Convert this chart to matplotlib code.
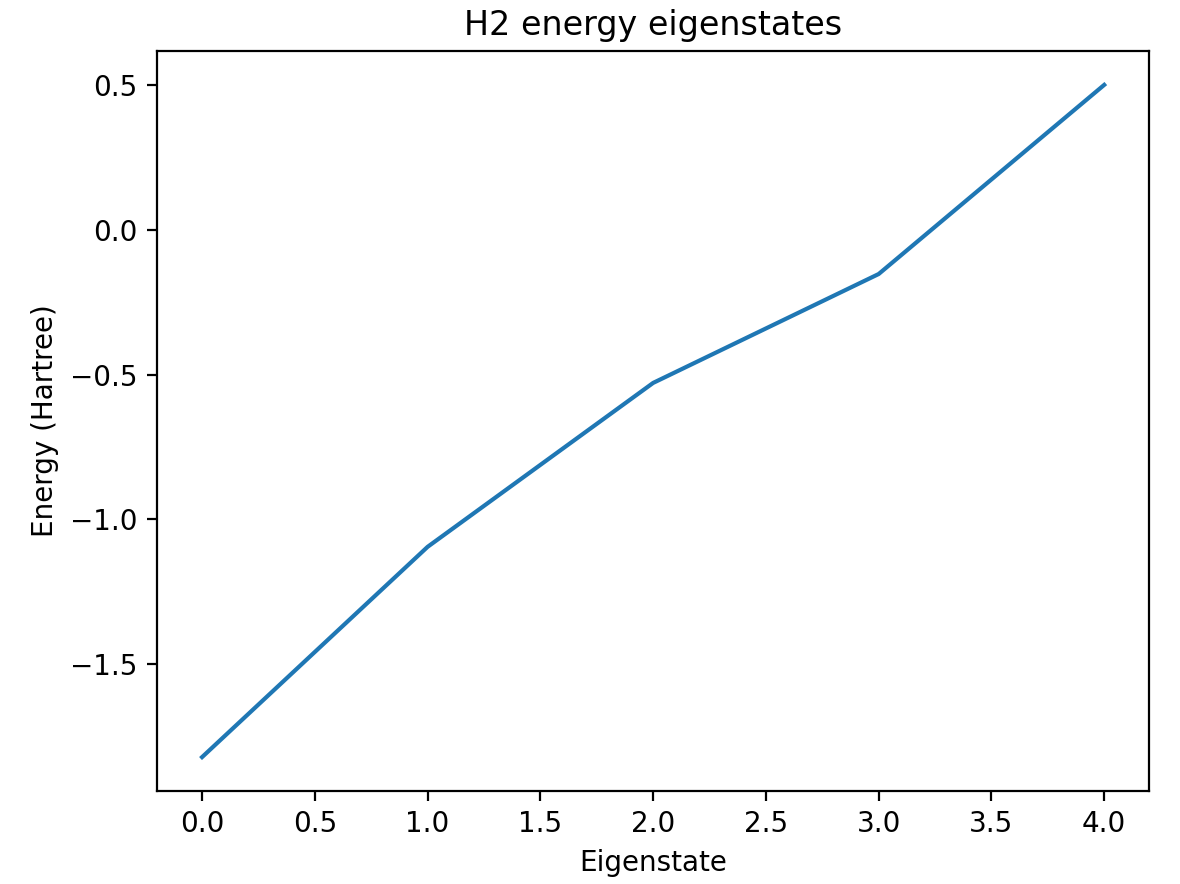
import numpy as np
import matplotlib
matplotlib.use("Agg")
import matplotlib.pyplot as plt

# eigenstate index and energies
states = [0, 1, 2, 3, 4]
energies = [-1.821, -1.095, -0.529, -0.153, 0.500]

fig = plt.figure(figsize=(5.9, 4.42), dpi=200)
ax = fig.add_subplot(111)
fig.subplots_adjust(left=0.133, right=0.974, top=0.942, bottom=0.1055)

ax.plot(states, energies)
ax.set_title("H2 energy eigenstates")
ax.set_xlabel("Eigenstate")
ax.set_ylabel("Energy (Hartree)")

fig.savefig("out.png", dpi=200)
